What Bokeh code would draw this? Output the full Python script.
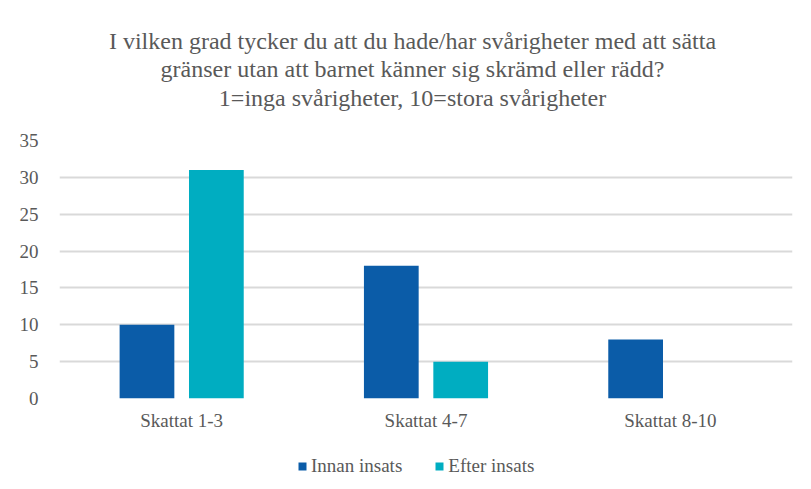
from bokeh.plotting import figure
from bokeh.layouts import column
from bokeh.models import (FactorRange, Label, Legend, LegendItem, ColumnDataSource,
                          FixedTicker, Range1d)
from bokeh.transform import dodge
from bokeh.embed import file_html
from bokeh.resources import INLINE

categories = ["Skattat 1-3", "Skattat 4-7", "Skattat 8-10"]
innan = [10, 18, 8]
efter = [31, 5, 0]
series_names = ["Innan insats", "Efter insats"]
y_ticks = [0, 5, 10, 15, 20, 25, 30, 35]
title_lines = [
    "I vilken grad tycker du att du hade/har svårigheter med att sätta",
    "gränser utan att barnet känner sig skrämd eller rädd?",
    "1=inga svårigheter, 10=stora svårigheter",
]

FONT = "Liberation Serif"
TXT = "#595959"
C1 = "#0B5CA8"
C2 = "#00ADC1"
FS = "19px"
W = 803

# ---- title strip (pixel-like ranges: frame spans x 59..792, y 0..130 top-down)
ts = figure(width=W, height=130, output_backend="svg", toolbar_location=None,
            x_axis_type=None, y_axis_type=None,
            x_range=Range1d(59, 792), y_range=Range1d(130, 0), min_border=0)
ts.outline_line_color = None
ts.grid.visible = False
for i, line in enumerate(title_lines):
    ts.add_layout(Label(x=412, y=40 + 28.5 * i, text=line, text_align="center",
                        text_baseline="middle", text_font=FONT, text_font_size="24px",
                        text_color=TXT))

# ---- main chart
src = ColumnDataSource(dict(cat=categories, innan=innan, efter=efter))
p = figure(
    x_range=FactorRange(*categories, range_padding=0),
    y_range=(0, 35),
    width=W, height=310,
    output_backend="svg", toolbar_location=None,
    min_border_left=59, min_border_right=11,
    min_border_top=10, min_border_bottom=42,
)
r1 = p.vbar(x=dodge("cat", -0.142, range=p.x_range), top="innan", width=0.224, source=src,
            fill_color=C1, line_color=None)
r2 = p.vbar(x=dodge("cat", 0.142, range=p.x_range), top="efter", width=0.224, source=src,
            fill_color=C2, line_color=None)

p.xgrid.grid_line_color = None
p.ygrid.grid_line_color = "#d9d9d9"
p.ygrid.grid_line_width = 2
p.yaxis.ticker = FixedTicker(ticks=y_ticks)
for ax in (p.xaxis[0], p.yaxis[0]):
    ax.axis_line_color = None
    ax.major_tick_line_color = None
    ax.minor_tick_line_color = None
    ax.major_label_text_font = FONT
    ax.major_label_text_color = TXT
    ax.major_label_text_font_size = FS
p.yaxis.major_label_standoff = 15
p.xaxis.major_label_standoff = 5
p.outline_line_color = None

# ---- legend strip (zero-height swatch renderers only feed the legend)
lg = figure(width=W, height=41, output_backend="svg", toolbar_location=None,
            x_axis_type=None, y_axis_type=None, x_range=(0, 1), y_range=(0, 1),
            min_border=0)
lg.outline_line_color = None
lg.grid.visible = False
d1 = lg.vbar(x=[0.5], top=[0], width=0.1, fill_color=C1, line_color=None)
d2 = lg.vbar(x=[0.5], top=[0], width=0.1, fill_color=C2, line_color=None)
legend = Legend(items=[LegendItem(label=series_names[0], renderers=[d1]),
                       LegendItem(label=series_names[1], renderers=[d2])],
                orientation="horizontal", location=(238, 4),
                label_text_font=FONT, label_text_color=TXT, label_text_font_size=FS,
                glyph_width=10, glyph_height=10, spacing=32, label_standoff=4,
                border_line_color=None, background_fill_alpha=0, margin=0, padding=0)
lg.add_layout(legend)

layout = column(ts, p, lg, spacing=0)
open("out.html", "w").write(file_html(layout, INLINE))
